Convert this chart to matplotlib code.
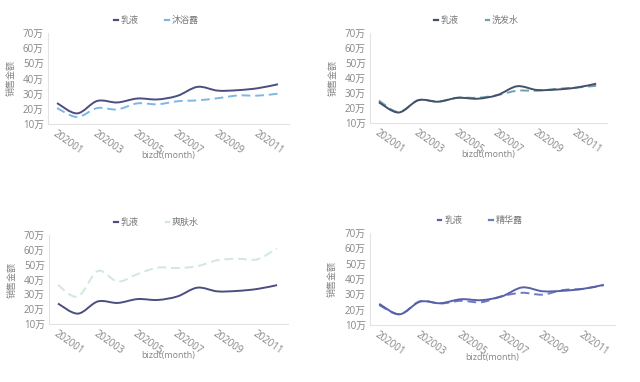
import matplotlib
matplotlib.use("Agg")
import matplotlib.pyplot as plt
from matplotlib.path import Path
from matplotlib.patches import PathPatch
from matplotlib.lines import Line2D
import numpy as np

plt.rcParams['font.family'] = ['Open Sans', 'Noto Sans CJK SC', 'DejaVu Sans']

months = ["202001", "202002", "202003", "202004", "202005", "202006",
          "202007", "202008", "202009", "202010", "202011", "202012"]
yticks = [10, 20, 30, 40, 50, 60, 70]
ytick_labels = ["10万", "20万", "30万", "40万", "50万", "60万", "70万"]

ruye = [23.8, 17.0, 25.2, 24.2, 26.8, 26.2, 28.6, 34.5, 32.0, 32.3, 33.6, 36.2]
muyulu = [20.5, 14.6, 20.5, 19.6, 23.6, 23.0, 25.0, 25.6, 27.0, 28.8, 28.7, 30.0]
xifashui = [25.0, 17.3, 25.2, 24.3, 26.9, 26.8, 28.6, 31.5, 31.5, 32.8, 33.6, 34.8]
shuangfushui = [36.3, 28.5, 45.7, 38.6, 43.7, 48.0, 47.7, 49.0, 53.0, 54.0, 53.6, 61.0]
jinghualu = [23.0, 17.0, 25.5, 24.0, 25.8, 24.8, 28.8, 31.0, 29.8, 32.8, 33.6, 36.0]

panels = [
    ("沐浴露", muyulu, "#4b4e7e", "#7ab8e6", [48, 33, 289, 124]),
    ("洗发水", xifashui, "#44506a", "#6fa2a8", [370, 33, 607, 123]),
    ("爽肤水", shuangfushui, "#4b4e7e", "#d2e8de", [49, 235, 288, 324]),
    ("精华露", jinghualu, "#5961a6", "#6d7bc4", [370, 233, 615, 325]),
]

W, H = 640, 382
fig = plt.figure(figsize=(6.4, 3.82), dpi=100)


def smooth_path(xs, ys, t=1.0):
    pts = np.column_stack([xs, ys]).astype(float)
    n = len(pts)
    verts = [pts[0]]
    codes = [Path.MOVETO]
    for i in range(n - 1):
        p0 = pts[i - 1] if i > 0 else pts[i]
        p1 = pts[i]
        p2 = pts[i + 1]
        p3 = pts[i + 2] if i + 2 < n else pts[i + 1]
        c1 = p1 + (p2 - p0) * t / 6.0
        c2 = p2 - (p3 - p1) * t / 6.0
        verts += [c1, c2, p2]
        codes += [Path.CURVE4] * 3
    return Path(verts, codes)


label_color = "#858585"
for name, series, c1, c2, (l, t, r, b) in panels:
    ax = fig.add_axes([l / W, 1 - b / H, (r - l) / W, (b - t) / H])
    x = np.arange(len(months))
    p1 = smooth_path(x, ruye)
    p2 = smooth_path(x, series)
    ax.add_patch(PathPatch(p2, fill=False, edgecolor=c2, lw=1.4,
                           linestyle=(0, (4.5, 2.5)), capstyle='butt', zorder=2))
    ax.add_patch(PathPatch(p1, fill=False, edgecolor=c1, lw=1.4, zorder=3))
    ax.set_xlim(-0.45, 11.55)
    ax.set_ylim(10, 70)
    ax.set_yticks(yticks)
    ax.set_yticklabels(ytick_labels, fontsize=7, color=label_color)
    ax.set_xticks(x[::2])
    ax.set_xticklabels(months[::2], fontsize=7, color=label_color,
                       rotation=-35, ha='left', va='top', rotation_mode='anchor')
    ax.tick_params(length=0, pad=3)
    for s in ["top", "right"]:
        ax.spines[s].set_visible(False)
    for s in ["left", "bottom"]:
        ax.spines[s].set_color("#e3e3e3")
        ax.spines[s].set_linewidth(0.8)
    ax.set_ylabel("销售金额", fontsize=6.5, color=label_color)
    ax.yaxis.set_label_coords(-0.135, 0.5)
    ax.set_xlabel("bizdt(month)", fontsize=6.5, color=label_color)
    ax.xaxis.set_label_coords(0.5, -0.3)
    handles = [Line2D([], [], color=c1, lw=1.6),
               Line2D([], [], color=c2, lw=1.6)]
    leg = ax.legend(handles, ["乳液", name], loc="center", ncol=2,
                    bbox_to_anchor=(0.45, 1.14), frameon=False, fontsize=6.5,
                    handlelength=0.4, handletextpad=0.3, columnspacing=3.0)
    for txt in leg.get_texts():
        txt.set_color("#777777")

fig.savefig("out.png", dpi=100, facecolor="white")
